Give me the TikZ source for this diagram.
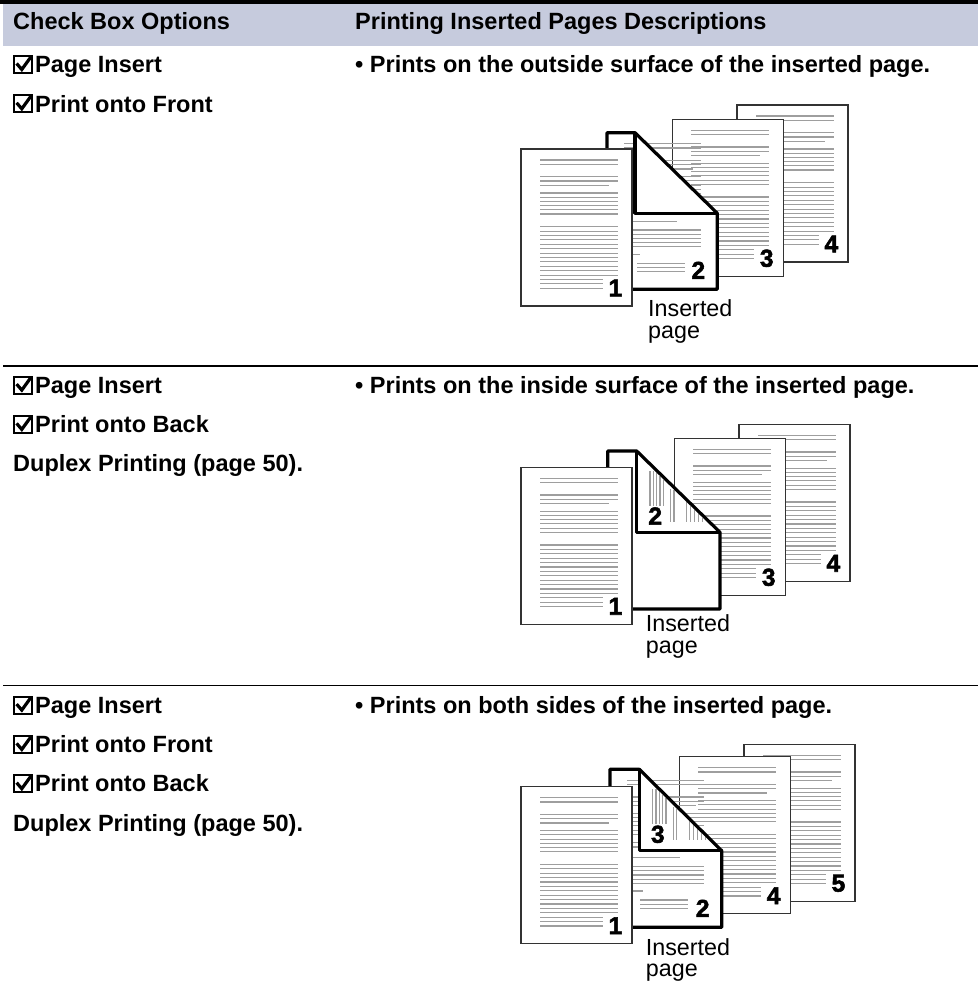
\documentclass[tikz,border=0pt]{standalone}
\usepackage{fontspec}
\setmainfont{Liberation Sans}
\newfontfamily\numfont{Liberation Sans Bold}[FakeBold=2.2]
\definecolor{headband}{RGB}{198,203,221}

% a plain printed sheet: #1,#2 top-left corner, #3 page number, #4 node name
\newcommand\sheet[4]{%
  \begin{scope}[shift={(#1,#2)}]
    \draw[sheetedge] (0,0) rectangle (111,157);
    \foreach \yy/\xe in {11/97,15.3/97,27.7/97,32/97,36.3/88,44/97,48.2/97,52.4/97,56.6/97,60.8/97,65/97}
      \draw[txt] (19,\yy) -- (\xe,\yy);
    \foreach \k in {0,...,14}{%
      \pgfmathsetmacro\yy{77.7+4.4*\k}%
      \pgfmathsetmacro\xe{\k>11 ? 82 : 97}%
      \draw[txt] (19,\yy) -- (\xe,\yy);}
    \node[pagenum] (#4) at (94.4,139) {#3};
  \end{scope}}

% the inserted sheet with its folded corner
% #1,#2 top-left, #3 width, #4 height, #5 fold x, #6 fold y,
% #7 front printed (1/0), #8 number printed on the back (empty = blank back)
\newcommand\insertsheet[8]{%
  \begin{scope}[shift={(#1,#2)}]
    \fill[white] (0,0) -- (#5,0) -- (#3,#6) -- (#3,#4) -- (0,#4) -- cycle;
    \ifnum#7=1
      \foreach \yy/\xs/\xe in {11/17/94,15.3/17/94,27.7/17/94,32/17/94,36.3/17/86,
          44/17/94,48.2/17/94,52.4/17/94,56.6/17/94,60.8/17/94,65/17/94,73.5/17/94,77.7/17/94,
          88.5/17/70,97.3/17/94,101.5/17/94,105.7/17/94,109.9/17/94,114/17/94,121.7/17/33,
          130.7/30/78,134.9/30/78,139.1/30/78}
        \draw[txt] (\xs,\yy) -- (\xe,\yy);
      \node[pagenum] at (#3-19,#4-19) {2};
    \fi
    \fill[white] (#5,0) -- (#5,#6) -- (#3,#6) -- cycle;
    \if\relax\detokenize{#8}\relax\else
      \foreach \xx/\ya/\yb in {13.3/20/55,16.7/20/55,20/20/55,23.3/20/55,26.7/20/55,
          34/38/71,37.3/38/71,50/0/71,54/0/71,58/0/71,62/0/71,66/0/71}{%
        \pgfmathsetmacro\ys{max(\ya,\xx*#6/(#3-#5)+2.5)}%
        \draw[txt] (#5+\xx,\ys) -- (#5+\xx,\yb);}
      \node[pagenum] at (#5+18.5,65) {#8};
    \fi
    \draw[fold] (0,0) -- (#5,0) -- (#3,#6) -- (#3,#4) -- (0,#4) -- cycle;
    \draw[fold] (#5,0) -- (#5,#6) -- (#3,#6);
  \end{scope}}

% ticked check box, #1 left x, #2 baseline
\newcommand\ticked[2]{%
  \draw[line width=2] (#1+1,#2+0.4) rectangle (#1+19,#2-16.6);
  \draw[line width=3.2, line join=miter] (#1+3.6,#2-9.2) -- (#1+8.8,#2-3.2) -- (#1+18.2,#2-16.2);}

\begin{document}
\begin{tikzpicture}[x=1pt,y=-1pt,
  sheetedge/.style={draw=black!80, line width=1.2, fill=white},
  txt/.style={draw=black!38, line width=1.1},
  fold/.style={draw=black, line width=3.2, line join=round},
  pagenum/.style={font=\numfont\fontsize{24.5}{24}\selectfont, inner sep=0},
  lbl/.style={font=\fontsize{23.5}{28}\selectfont\bfseries, inner sep=0, anchor=base west},
  caption/.style={font=\fontsize{23.3}{28}\selectfont, inner sep=0, anchor=base west},
  rowrule/.style={draw=black, line width=1.3}]

\useasboundingbox (0,0) rectangle (978,998);
\fill[white] (0,0) rectangle (978,998);

% table head
\fill[headband] (3,4) rectangle (978,46);
\draw[line width=3.5] (0,2.2) -- (978,2.2);
\node[lbl] (h1) at (13,29.3) {Check Box Options};
\node[lbl] (h2) at (355,29.3) {Printing Inserted Pages Descriptions};

% row separators
\draw[rowrule] (3,366) -- (978,366);
\draw[rowrule] (3,685.3) -- (978,685.3);

% row 1
\ticked{13}{72.7}
\node[lbl] (a1) at (35,72.7) {Page Insert};
\ticked{13}{112}
\node[lbl] (a2) at (35,112) {Print onto Front};
\node[lbl] (d1) at (355,72.7) {• Prints on the outside surface of the inserted page.};

% row 2
\ticked{13}{393.3}
\node[lbl] (b1) at (35,393.3) {Page Insert};
\ticked{13}{432.6}
\node[lbl] (b2) at (35,432.6) {Print onto Back};
\node[lbl] (b3) at (13,471.9) {Duplex Printing (page 50).};
\node[lbl] (d2) at (355,393.3) {• Prints on the inside surface of the inserted page.};

% row 3
\ticked{13}{713.3}
\node[lbl] (c1) at (35,713.3) {Page Insert};
\ticked{13}{752.6}
\node[lbl] (c2) at (35,752.6) {Print onto Front};
\ticked{13}{791.9}
\node[lbl] (c3) at (35,791.9) {Print onto Back};
\node[lbl] (c4) at (13,831.2) {Duplex Printing (page 50).};
\node[lbl] (d3) at (355,713.3) {• Prints on both sides of the inserted page.};

% sheets, row 1
\sheet{737}{105}{4}{r1p4}
\sheet{672.3}{119.3}{3}{r1p3}
\insertsheet{607}{132.7}{110.3}{156.6}{28}{80.6}{1}{}
\sheet{521}{149}{1}{r1p1}
\node[caption] (i1a) at (648,316.7) {Inserted};
\node[caption] (i1b) at (648,338.4) {page};

% sheets, row 2
\sheet{739}{424.3}{4}{r2p4}
\sheet{674.3}{438.3}{3}{r2p3}
\insertsheet{607.7}{451}{112.3}{158}{29}{81.3}{0}{2}
\sheet{521}{467.3}{1}{r2p1}
\node[caption] (i2a) at (645.7,631.7) {Inserted};
\node[caption] (i2b) at (645.7,653.4) {page};

% sheets, row 3
\sheet{744}{744.3}{5}{r3p5}
\sheet{679.3}{756.7}{4}{r3p4}
\insertsheet{610}{769.3}{111.7}{158}{29.3}{81.4}{1}{3}
\sheet{521}{786.7}{1}{r3p1}
\node[caption] (i3a) at (645.7,955) {Inserted};
\node[caption] (i3b) at (645.7,976.7) {page};
\end{tikzpicture}
\end{document}
